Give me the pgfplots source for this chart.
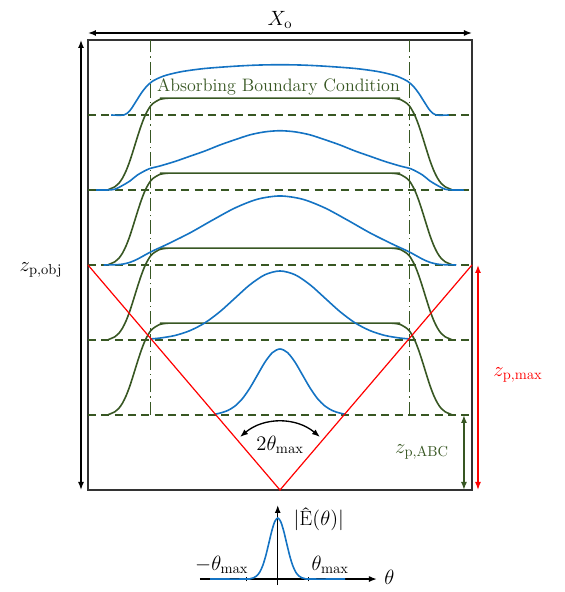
\RequirePackage{fix-cm}
\documentclass[border=0pt]{standalone}
\usepackage{pgfplots}
\pgfplotsset{compat=1.18}
\usepackage{pgfplotstable}
\usetikzlibrary{arrows.meta}
\definecolor{cblue}{RGB}{20,115,195}
\definecolor{cgreen}{RGB}{56,87,35}
\definecolor{cred}{RGB}{255,0,0}
\newcommand{\bigf}{\fontsize{13.5}{16}\selectfont}
\newcommand{\mathf}{\fontsize{15.5}{18}\selectfont}

% absorbing boundary condition window profiles (one column per layer)
\pgfplotstableread{
x g1 g2 g3 g4
-2.30 1.000 2.000 3.000 4.000
-2.20 1.044 2.044 3.044 4.044
-2.15 1.087 2.087 3.087 4.087
-2.10 1.158 2.158 3.158 4.158
-2.05 1.260 2.260 3.260 4.260
-2.00 1.392 2.392 3.392 4.392
-1.95 1.548 2.548 3.548 4.548
-1.90 1.709 2.709 3.709 4.709
-1.85 1.861 2.861 3.861 4.861
-1.80 1.989 2.989 3.989 4.989
-1.75 2.084 3.084 4.084 5.084
-1.70 2.148 3.148 4.148 5.148
-1.60 2.208 3.208 4.208 5.208
-1.50 2.223 3.223 4.223 5.223
-1.40 2.225 3.225 4.225 5.225
 1.40 2.225 3.225 4.225 5.225
 1.50 2.223 3.223 4.223 5.223
 1.60 2.208 3.208 4.208 5.208
 1.70 2.148 3.148 4.148 5.148
 1.75 2.084 3.084 4.084 5.084
 1.80 1.989 2.989 3.989 4.989
 1.85 1.861 2.861 3.861 4.861
 1.90 1.709 2.709 3.709 4.709
 1.95 1.548 2.548 3.548 4.548
 2.00 1.392 2.392 3.392 4.392
 2.05 1.260 2.260 3.260 4.260
 2.10 1.158 2.158 3.158 4.158
 2.15 1.087 2.087 3.087 4.087
 2.20 1.044 2.044 3.044 4.044
 2.30 1.000 2.000 3.000 4.000
}\greentab

\begin{document}
\begin{tikzpicture}[>={Latex[length=6pt,width=4.5pt]}, font=\mathf]
\begin{axis}[
  scale only axis,
  width=288pt, height=337.5pt,
  xmin=-2.56, xmax=2.56, ymin=0, ymax=6,
  xtick=\empty, ytick=\empty,
  axis line style={line width=1.1pt, color=black!80},
  clip=false,
  no markers,
]
% bounding area of the whole figure
\path (axis cs:-3.733,-1.36) rectangle (axis cs:3.787,6.533);

% dashed layer lines
\addplot[cgreen, line width=1.1pt, dash pattern=on 6pt off 4pt] coordinates {(-2.56,1)(2.56,1)};
\addplot[cgreen, line width=1.1pt, dash pattern=on 6pt off 4pt] coordinates {(-2.56,2)(2.56,2)};
\addplot[cgreen, line width=1.1pt, dash pattern=on 6pt off 4pt] coordinates {(-2.56,3)(2.56,3)};
\addplot[cgreen, line width=1.1pt, dash pattern=on 6pt off 4pt] coordinates {(-2.56,4)(2.56,4)};
\addplot[cgreen, line width=1.1pt, dash pattern=on 6pt off 4pt] coordinates {(-2.56,5)(2.56,5)};

% dash-dot vertical lines
\addplot[cgreen, line width=0.8pt, dash pattern=on 10pt off 3pt on 1pt off 3pt] coordinates {(-1.73,1)(-1.73,6)};
\addplot[cgreen, line width=0.8pt, dash pattern=on 10pt off 3pt on 1pt off 3pt] coordinates {(1.73,1)(1.73,6)};

% ABC windows
\addplot[cgreen, line width=1.2pt, smooth] table[x=x, y=g1] {\greentab};
\addplot[cgreen, line width=1.2pt, smooth] table[x=x, y=g2] {\greentab};
\addplot[cgreen, line width=1.2pt, smooth] table[x=x, y=g3] {\greentab};
\addplot[cgreen, line width=1.2pt, smooth] table[x=x, y=g4] {\greentab};

% field profiles
\addplot[cblue, line width=1.2pt, smooth] coordinates {
(-0.87,1.010)(-0.8,1.025)(-0.7,1.058)(-0.6,1.119)(-0.5,1.219)(-0.4,1.362)(-0.3,1.534)(-0.2,1.705)(-0.1,1.832)(0,1.880)
(0.1,1.832)(0.2,1.705)(0.3,1.534)(0.4,1.362)(0.5,1.219)(0.6,1.119)(0.7,1.058)(0.8,1.025)(0.87,1.010)};
\addplot[cblue, line width=1.2pt, smooth] coordinates {
(-1.73,2.014)(-1.6,2.026)(-1.4,2.060)(-1.2,2.125)(-1.0,2.229)(-0.8,2.378)(-0.6,2.558)(-0.4,2.737)(-0.2,2.870)(0,2.920)
(0.2,2.870)(0.4,2.737)(0.6,2.558)(0.8,2.378)(1.0,2.229)(1.2,2.125)(1.4,2.060)(1.6,2.026)(1.73,2.014)};
\addplot[cblue, line width=1.2pt, smooth] coordinates {
(-2.35,3.000)(-2.2,3.003)(-2.1,3.011)(-2.0,3.035)(-1.9,3.078)(-1.8,3.133)(-1.7,3.186)(-1.5,3.278)(-1.2,3.428)(-0.9,3.598)(-0.6,3.760)(-0.3,3.877)(0,3.920)
(0.3,3.877)(0.6,3.760)(0.9,3.598)(1.2,3.428)(1.5,3.278)(1.7,3.186)(1.8,3.133)(1.9,3.078)(2.0,3.035)(2.1,3.011)(2.2,3.003)(2.35,3.000)};
\addplot[cblue, line width=1.2pt, smooth] coordinates {
(-2.45,4.000)(-2.3,4.000)(-2.2,4.010)(-2.1,4.060)(-2.0,4.120)(-1.9,4.200)(-1.75,4.280)(-1.6,4.320)(-1.4,4.380)(-1.2,4.450)(-1.0,4.520)(-0.8,4.600)(-0.6,4.670)(-0.4,4.735)(-0.2,4.775)(0,4.790)
(0.2,4.775)(0.4,4.735)(0.6,4.670)(0.8,4.600)(1.0,4.520)(1.2,4.450)(1.4,4.380)(1.6,4.320)(1.75,4.280)(1.9,4.200)(2.0,4.120)(2.1,4.060)(2.2,4.010)(2.3,4.000)(2.45,4.000)};
\addplot[cblue, line width=1.2pt, smooth] coordinates {
(-2.25,5.000)(-2.08,5.000)(-2.0,5.060)(-1.92,5.180)(-1.85,5.290)(-1.78,5.380)(-1.7,5.450)(-1.6,5.500)(-1.5,5.535)(-1.3,5.580)(-1.0,5.620)(-0.6,5.650)(-0.3,5.665)(0,5.670)
(0.3,5.665)(0.6,5.650)(1.0,5.620)(1.3,5.580)(1.5,5.535)(1.6,5.500)(1.7,5.450)(1.78,5.380)(1.85,5.290)(1.92,5.180)(2.0,5.060)(2.08,5.000)(2.25,5.000)};

% maximum angle cone
\addplot[cred, line width=0.9pt] coordinates {(-2.56,3)(0,0)(2.56,3)};

% angle arc and labels
\draw[<->, line width=1pt] (axis cs:-0.533,0.707) to[bend left=40] (axis cs:0.533,0.707);
\node at (axis cs:0,0.60) {$2\theta_{\max}$};
\node[text=cgreen, font=\bigf] at (axis cs:-0.02,5.37) {Absorbing Boundary Condition};

% dimension arrows
\draw[<->, line width=1.1pt] (axis cs:-2.56,6.093) -- (axis cs:2.56,6.093);
\node at (axis cs:0,6.27) {$X_{\mathrm{o}}$};
\draw[<->, line width=1.1pt] (axis cs:-2.653,0) -- (axis cs:-2.653,6);
\node at (axis cs:-3.187,2.93) {$z_{\mathrm{p,obj}}$};
\draw[<->, line width=1.1pt, cred] (axis cs:2.64,0) -- (axis cs:2.64,3);
\node[text=cred] at (axis cs:3.173,1.53) {$z_{\mathrm{p,max}}$};
\draw[<->, line width=1.1pt, cgreen] (axis cs:2.453,0) -- (axis cs:2.453,1);
\node[text=cgreen] at (axis cs:1.893,0.507) {$z_{\mathrm{p,ABC}}$};

% inset: angular spectrum
\draw[->, line width=1.1pt] (axis cs:-1.067,-1.187) -- (axis cs:1.293,-1.187);
\draw[->, line width=1.1pt] (axis cs:-0.03,-1.267) -- (axis cs:-0.03,-0.20);
\draw[line width=0.8pt] (axis cs:-0.443,-1.217) -- (axis cs:-0.443,-1.157);
\draw[line width=0.8pt] (axis cs:0.383,-1.217) -- (axis cs:0.383,-1.157);
\addplot[cblue, line width=1.2pt, smooth] coordinates {
(-0.93,-1.187)(-0.44,-1.187)(-0.39,-1.181)(-0.35,-1.170)(-0.31,-1.145)(-0.27,-1.095)(-0.23,-1.008)(-0.19,-0.878)(-0.15,-0.715)(-0.11,-0.549)(-0.07,-0.422)(-0.03,-0.374)
(0.01,-0.422)(0.05,-0.549)(0.09,-0.715)(0.13,-0.878)(0.17,-1.008)(0.21,-1.095)(0.25,-1.145)(0.29,-1.170)(0.33,-1.181)(0.38,-1.187)(0.87,-1.187)};
\node[anchor=east] at (axis cs:-0.36,-1.0) {$-\theta_{\max}$};
\node[anchor=west] at (axis cs:0.36,-1.0) {$\theta_{\max}$};
\node[anchor=west] at (axis cs:1.33,-1.17) {$\theta$};
\node[anchor=west] at (axis cs:0.12,-0.39) {$\big|$Ê$(\theta)\big|$};
\end{axis}
\end{tikzpicture}
\end{document}
